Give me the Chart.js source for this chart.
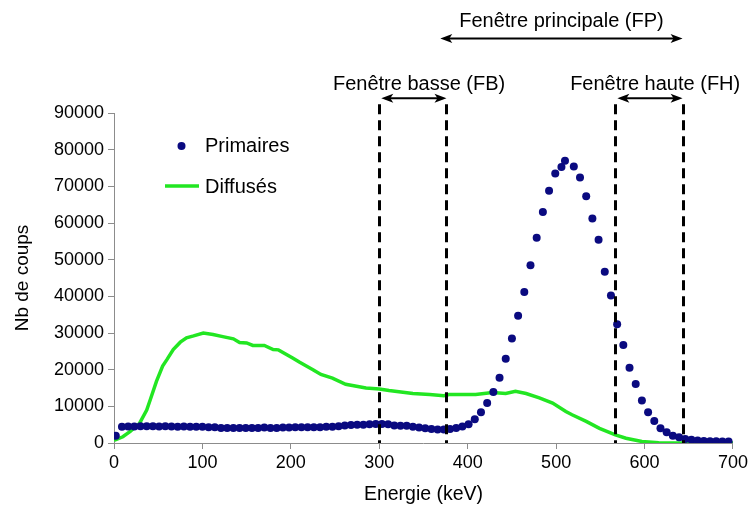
<!DOCTYPE html>
<html>
<head>
<meta charset="utf-8">
<script src="https://cdn.jsdelivr.net/npm/chart.js@4/dist/chart.umd.min.js"></script>
<style>
  html, body { margin: 0; padding: 0; background: #fff; }
  #wrap { width: 751px; height: 514px; }
</style>
</head>
<body>
<div id="wrap"><canvas id="chart"></canvas></div>
<script>
// Primaires (dots)
const primEnergy = [
    2, 9, 16, 23, 30, 37, 44, 51, 58, 65, 72, 79, 86, 93, 100, 107, 114, 121, 128, 135,
    142, 149, 156, 163, 170, 177, 184, 191, 198, 205, 212, 219, 226, 233, 240, 247, 254, 261, 268, 275,
    282, 289, 296, 303, 310, 317, 324, 331, 338, 345, 352, 359, 366, 373, 380, 387, 394, 401, 408, 415,
    422, 429, 436, 443, 450, 457, 464, 471, 478, 485, 492, 499, 506, 510, 520, 527, 534, 541, 548, 555,
    562, 569, 576, 583, 590, 597, 604, 611, 618, 625, 632, 639, 646, 653, 660, 667, 674, 681, 688, 695
];
const primCounts = [
    2000, 4400, 4500, 4500, 4600, 4600, 4600, 4500, 4600, 4500, 4400, 4500, 4400, 4400, 4400, 4300, 4300, 4100, 4100, 4100,
    4100, 4100, 4100, 4100, 4200, 4100, 4100, 4200, 4200, 4300, 4300, 4300, 4300, 4300, 4400, 4400, 4600, 4800, 4900, 5000,
    5000, 5100, 5200, 5200, 5100, 4800, 4700, 4700, 4400, 4200, 4000, 3800, 3700, 3700, 3800, 4100, 4500, 5100, 6500, 8400,
    10900, 13900, 17800, 23000, 28500, 34700, 41200, 48500, 56000, 63000, 68800, 73500, 75300, 77000, 75400, 72400, 67300, 61200, 55400, 46700,
    40200, 32400, 26700, 20500, 16100, 11600, 8400, 6000, 4000, 2900, 2000, 1600, 1100, 900, 700, 550, 500, 450, 400, 400
];

// Diffusés (line)
const diffEnergy = [
    0, 10, 18, 29, 37, 41, 48, 55, 60, 67, 75, 82, 90, 101, 112, 123, 135, 142, 150, 157,
    170, 180, 186, 202, 210, 225, 234, 247, 262, 285, 300, 311, 338, 357, 373, 379, 409, 428, 443, 454,
    466, 481, 496, 511, 518, 534, 549, 567, 579, 597, 616, 642, 700
];
const diffCounts = [
    700, 1700, 3100, 5400, 9000, 11800, 16800, 21000, 22800, 25500, 27500, 28700, 29200, 30000, 29600, 29000, 28400, 27400, 27300, 26600,
    26600, 25500, 25400, 23200, 22000, 20000, 18700, 17700, 16000, 15000, 14700, 14300, 13500, 13200, 12900, 13200, 13200, 13800, 13500, 14100,
    13500, 12300, 10900, 8600, 7700, 5900, 4000, 2200, 1300, 400, 100, 0, 0
];

// Energy windows (keV)
const fbWindow = [300, 376];
const fhWindow = [567, 643];
const fpWindow = [369, 643];
const windowLabels = ['Fenêtre basse (FB)', 'Fenêtre haute (FH)', 'Fenêtre principale (FP)'];
const windowLabelX = [345, 612, 506];

const xTicks = [0, 100, 200, 300, 400, 500, 600, 700];

const FONT = '"Liberation Sans", Arial, sans-serif';
const NAVY = '#0a0a80';
const GREEN = '#22e622';

function toXY(xs, ys) {
    return xs.map((x, i) => ({ x: x, y: ys[i] }));
}

function arrow(ctx, x1, x2, y) {
    const head = 12, half = 4.5;
    ctx.beginPath();
    ctx.moveTo(x1 + 4, y);
    ctx.lineTo(x2 - 4, y);
    ctx.stroke();
    ctx.beginPath();
    ctx.moveTo(x1, y);
    ctx.lineTo(x1 + head, y - half);
    ctx.lineTo(x1 + head - 3, y);
    ctx.lineTo(x1 + head, y + half);
    ctx.closePath();
    ctx.fill();
    ctx.beginPath();
    ctx.moveTo(x2, y);
    ctx.lineTo(x2 - head, y - half);
    ctx.lineTo(x2 - head + 3, y);
    ctx.lineTo(x2 - head, y + half);
    ctx.closePath();
    ctx.fill();
}

// Windows, arrows, labels and legend
const annotations = {
    id: 'annotations',
    afterDraw(chart) {
        const { ctx, scales: { x, y } } = chart;
        ctx.save();

        // dashed window borders
        ctx.strokeStyle = '#000';
        ctx.lineWidth = 3;
        ctx.setLineDash([10, 6]);
        [fbWindow[0], fbWindow[1], fhWindow[0], fhWindow[1]].forEach(e => {
            const px = Math.round(x.getPixelForValue(e)) + 0.5;
            ctx.beginPath();
            ctx.moveTo(px, y.getPixelForValue(94000) + 6);
            ctx.lineTo(px, y.getPixelForValue(0));
            ctx.stroke();
        });
        ctx.setLineDash([]);

        // arrows
        ctx.fillStyle = '#000';
        ctx.lineWidth = 2;
        arrow(ctx, x.getPixelForValue(fbWindow[0]) + 2, x.getPixelForValue(fbWindow[1]), y.getPixelForValue(94000));
        arrow(ctx, x.getPixelForValue(fhWindow[0]) + 2, x.getPixelForValue(fhWindow[1]), y.getPixelForValue(94000));
        arrow(ctx, x.getPixelForValue(fpWindow[0]), x.getPixelForValue(fpWindow[1]), y.getPixelForValue(110300));

        // labels
        ctx.font = '20px ' + FONT;
        ctx.textAlign = 'center';
        ctx.textBaseline = 'middle';
        ctx.fillText(windowLabels[0], x.getPixelForValue(windowLabelX[0]), y.getPixelForValue(97700));
        ctx.fillText(windowLabels[1], x.getPixelForValue(windowLabelX[1]), y.getPixelForValue(97700));
        ctx.fillText(windowLabels[2], x.getPixelForValue(windowLabelX[2]), y.getPixelForValue(114900));

        // legend
        ctx.textAlign = 'left';
        ctx.fillStyle = NAVY;
        ctx.beginPath();
        ctx.arc(181.5, 146, 4, 0, Math.PI * 2);
        ctx.fill();
        ctx.strokeStyle = GREEN;
        ctx.lineWidth = 3.5;
        ctx.beginPath();
        ctx.moveTo(165, 186);
        ctx.lineTo(199, 186);
        ctx.stroke();
        ctx.fillStyle = '#000';
        ctx.fillText('Primaires', 205, 146);
        ctx.fillText('Diffusés', 205, 187);

        ctx.restore();
    }
};

new Chart(document.getElementById('chart'), {
    type: 'scatter',
    data: {
        datasets: [{
            label: 'Primaires',
            data: toXY(primEnergy, primCounts),
            backgroundColor: NAVY,
            borderColor: NAVY,
            pointRadius: 4,
            pointHoverRadius: 4,
            borderWidth: 0,
            showLine: false,
            order: 1
        }, {
            label: 'Diffusés',
            data: toXY(diffEnergy, diffCounts),
            borderColor: GREEN,
            backgroundColor: GREEN,
            borderWidth: 3.5,
            pointRadius: 0,
            showLine: true,
            tension: 0,
            order: 2
        }]
    },
    options: {
        responsive: true,
        maintainAspectRatio: false,
        animation: false,
        layout: { padding: { top: 113, right: 17, left: 0, bottom: 0 } },
        scales: {
            x: {
                type: 'linear',
                min: 0,
                max: 700,
                afterFit: s => { s.height = 71; },
                afterBuildTicks: s => { s.ticks = xTicks.map(v => ({ value: v })); },
                ticks: {
                    color: '#000',
                    padding: 3,
                    font: { family: FONT, size: 18 }
                },
                grid: { drawOnChartArea: false, tickLength: 6, color: '#8c8c8c' },
                border: { color: '#8c8c8c', width: 1 },
                title: {
                    display: true,
                    text: 'Energie (keV)',
                    color: '#000',
                    font: { family: FONT, size: 19.5 },
                    padding: { top: 0, bottom: 8 }
                }
            },
            y: {
                min: 0,
                max: 90000,
                afterFit: s => { s.width = 114; },
                ticks: {
                    stepSize: 10000,
                    color: '#000',
                    padding: 4,
                    font: { family: FONT, size: 18 },
                    callback: v => v
                },
                grid: { drawOnChartArea: false, tickLength: 6, color: '#8c8c8c' },
                border: { color: '#8c8c8c', width: 1 },
                title: {
                    display: true,
                    text: 'Nb de coups',
                    color: '#000',
                    font: { family: FONT, size: 19 },
                    padding: { top: 11, bottom: 0 }
                }
            }
        },
        plugins: {
            legend: { display: false },
            tooltip: { enabled: false }
        }
    },
    plugins: [annotations]
});
</script>
</body>
</html>
